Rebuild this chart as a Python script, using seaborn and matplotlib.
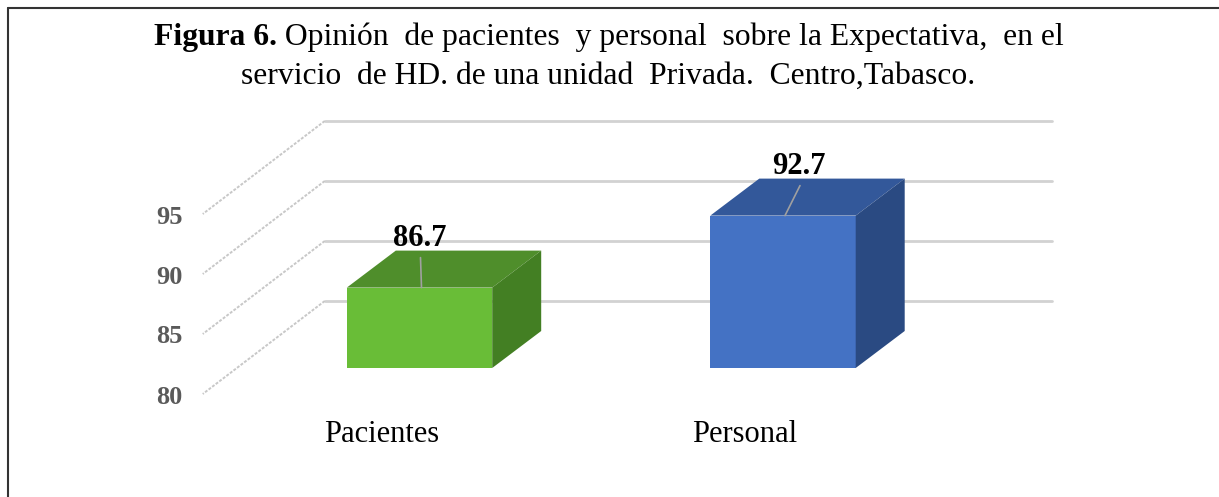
import numpy as np
import pandas as pd
import matplotlib
matplotlib.use("Agg")
import matplotlib.pyplot as plt
import seaborn as sns
from matplotlib.patches import Polygon
from matplotlib.lines import Line2D

# ---------------- data ----------------
categories = ["Pacientes", "Personal"]
values = [86.7, 92.7]
value_labels = ["86.7", "92.7"]
y_ticks = [80, 85, 90, 95]
y_tick_labels = ["80", "85", "90", "95"]
title_bold = "Figura 6."
title_rest = " Opinión  de pacientes  y personal  sobre la Expectativa,  en el"
title_line2 = "servicio  de HD. de una unidad  Privada.  Centro,Tabasco."

# ---------------- style ----------------
FRONT_COLORS = ["#69BD37", "#4472C4"]
TOP_COLORS = ["#4F8E2B", "#33589A"]
SIDE_COLORS = ["#437F23", "#2A4A82"]
LABEL_DX = [0, 16]

sns.set_style("white")
plt.rcParams["font.family"] = ["Liberation Serif", "DejaVu Serif"]
plt.rcParams["text.color"] = "black"

W, H = 1219, 497
fig = plt.figure(figsize=(W / 100, H / 100), dpi=100)
fig.patch.set_facecolor("white")

ax = fig.add_axes([237.75 / W, (H - 368) / H, 727 / W, 180 / H])
df = pd.DataFrame({"cat": categories, "val": values})
sns.barplot(data=df, x="cat", y="val", hue="cat", palette=FRONT_COLORS,
            legend=False, width=0.4, saturation=1, ax=ax, zorder=3,
            linewidth=0, edgecolor="none")
ax.set_xlim(-0.5, 1.5)
ax.set_ylim(80, 95)
ax.set_axis_off()

BACK = np.array([87.0, 67.0])
FRONT = np.array([-35.0, -26.0])
DEPTH = np.array([49.0, 37.0])


def px(x, y):
    return ax.transData.transform((x, y))


def dat(p):
    return ax.transData.inverted().transform(p)


# back wall gridlines + side wall diagonals + tick labels
for v, lab in zip(y_ticks, y_tick_labels):
    p0 = dat(px(-0.5, v) + BACK)
    p1 = dat(px(1.5, v) + BACK)
    ax.add_line(Line2D([p0[0], p1[0]], [p0[1], p1[1]], color="#d2d2d2",
                       lw=2.0, clip_on=False, zorder=1))
    p2 = dat(px(-0.5, v) + FRONT)
    ax.add_line(Line2D([p0[0], p2[0]], [p0[1], p2[1]], color="#c8c8c8",
                       lw=1.4, ls=(0, (1.5, 0.8)), clip_on=False, zorder=1))
    pt = dat(px(-0.5, v) + FRONT + np.array([-20, -3]))
    ax.text(pt[0], pt[1], lab, ha="right", va="center", fontsize=19,
            fontweight="bold", color="#5a5a5a", clip_on=False)

# 3D faces for bars
ymin = ax.get_ylim()[0]
for i, patch in enumerate(ax.patches):
    x0 = patch.get_x()
    x1 = x0 + patch.get_width()
    top = patch.get_y() + patch.get_height()
    fl = px(x0, top)
    fr = px(x1, top)
    br = px(x1, ymin)
    top_face = [dat(fl), dat(fr), dat(fr + DEPTH), dat(fl + DEPTH)]
    side_face = [dat(fr), dat(br), dat(br + DEPTH), dat(fr + DEPTH)]
    ax.add_patch(Polygon(top_face, closed=True, facecolor=TOP_COLORS[i],
                         edgecolor="none", clip_on=False, zorder=3))
    ax.add_patch(Polygon(side_face, closed=True, facecolor=SIDE_COLORS[i],
                         edgecolor="none", clip_on=False, zorder=3))
    cx = x0 + patch.get_width() / 2
    anchor = px(cx, top)
    lab_pos = anchor + np.array([LABEL_DX[i], 49])
    lp = dat(lab_pos)
    ax.text(lp[0], lp[1], value_labels[i], ha="center", va="center",
            fontsize=22, fontweight="bold", color="black", clip_on=False,
            zorder=5)
    a = dat(anchor + np.array([2, 0]))
    b = dat(lab_pos + np.array([1, -19]))
    ax.add_line(Line2D([a[0], b[0]], [a[1], b[1]], color="#a0a0a0", lw=1.2,
                       clip_on=False, zorder=4))
    # category label
    cp = dat(px(cx, ymin) + np.array([-38, -67]))
    ax.text(cp[0], cp[1], categories[i], ha="center", va="center",
            fontsize=22, color="black", clip_on=False)

# title (two lines, first with bold prefix)
renderer = fig.canvas.get_renderer()
t1 = fig.text(0, 0, title_bold, fontsize=22.8, fontweight="bold",
              va="center", ha="left", color="black")
t2 = fig.text(0, 0, title_rest, fontsize=22.8, va="center", ha="left",
              color="black")
w1 = t1.get_window_extent(renderer).width
w2 = t2.get_window_extent(renderer).width
start = 609 - (w1 + w2) / 2
y1 = (H - 37) / H
t1.set_position((start / W, y1))
t2.set_position(((start + w1) / W, y1))
fig.text(608.5 / W, (H - 76) / H, title_line2, fontsize=22.8, ha="center",
         va="center", color="black")

# frame border (left and top visible)
fig.add_artist(Line2D([7.5 / W, 7.5 / W], [0, (H - 7.5) / H],
                      transform=fig.transFigure, color="#333333", lw=1.5))
fig.add_artist(Line2D([7.5 / W, 1], [(H - 7.5) / H, (H - 7.5) / H],
                      transform=fig.transFigure, color="#333333", lw=1.5))

fig.savefig("out.png", dpi=100)
